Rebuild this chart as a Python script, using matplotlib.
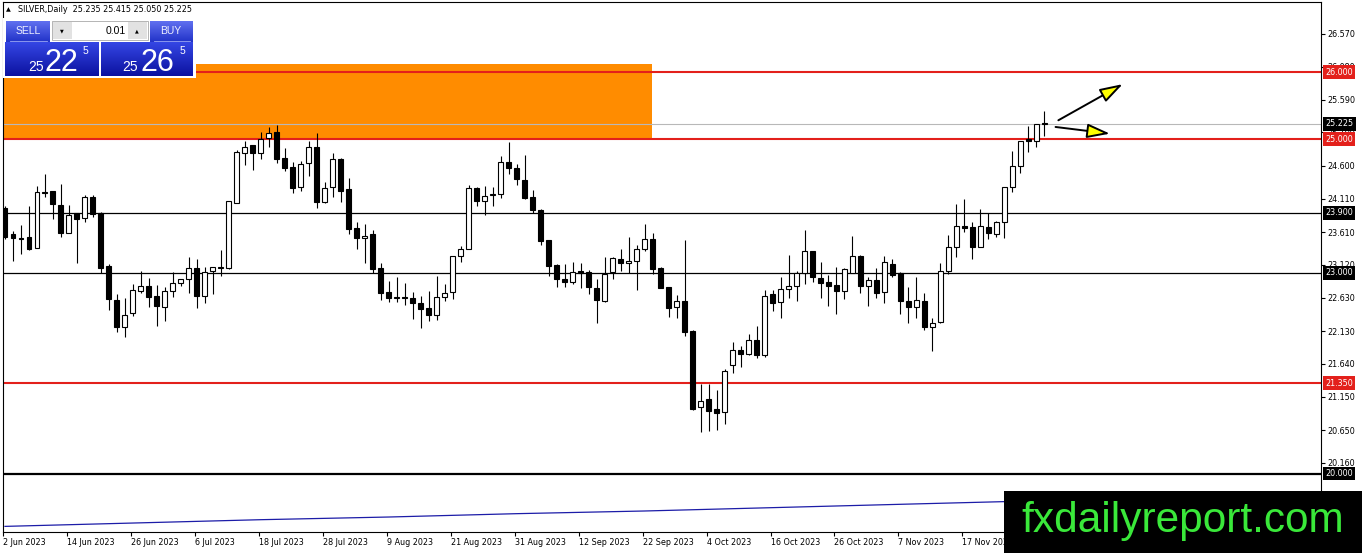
import matplotlib
matplotlib.use("Agg")
import matplotlib.pyplot as plt
import numpy as np
from matplotlib.patches import Rectangle, FancyArrowPatch
from matplotlib.colors import LinearSegmentedColormap

#********************************************
# DATA

opens = [23.97, 23.58, 23.52, 23.54, 23.37, 24.21, 24.22, 24.01, 23.60, 23.89,
         23.82, 24.13, 23.89, 23.10, 22.59, 22.19, 22.40, 22.73, 22.80, 22.65,
         22.49, 22.73, 22.85, 22.91, 23.07, 22.65, 23.03, 23.07, 23.07, 24.04,
         24.79, 24.91, 24.79, 25.02, 25.11, 24.72, 24.58, 24.28, 24.64, 24.88,
         24.06, 24.28, 24.70, 24.25, 23.67, 23.52, 23.58, 23.07, 22.71, 22.62,
         22.64, 22.62, 22.55, 22.47, 22.37, 22.64, 22.71, 23.25, 23.36, 24.27,
         24.07, 24.17, 24.18, 24.66, 24.57, 24.39, 24.13, 23.94, 23.49, 23.12,
         22.91, 22.86, 23.03, 23.01, 22.77, 22.58, 23.01, 23.21, 23.15, 23.18,
         23.36, 23.51, 23.07, 22.79, 22.49, 22.58, 22.13, 20.99, 21.11, 20.96,
         20.92, 21.62, 21.85, 21.79, 22.00, 21.77, 22.68, 22.56, 22.76, 22.80,
         23.00, 23.33, 22.92, 22.86, 22.82, 22.73, 23.00, 23.25, 22.80, 22.89,
         22.71, 23.13, 23.00, 22.58, 22.49, 22.58, 22.19, 22.27, 23.03, 23.39,
         23.70, 23.69, 23.39, 23.69, 23.58, 23.76, 24.28, 24.60, 25.00, 24.97,
         25.235]
highs = [24.00, 23.63, 23.72, 24.00, 24.30, 24.48, 24.22, 24.33, 24.01, 23.89,
         24.16, 24.16, 23.91, 23.13, 22.68, 22.62, 22.83, 23.03, 22.92, 22.82,
         22.79, 23.01, 22.91, 23.24, 23.21, 23.09, 23.09, 23.34, 24.07, 24.84,
         24.97, 24.91, 25.11, 25.18, 25.21, 24.87, 24.66, 24.67, 24.97, 25.09,
         24.36, 24.79, 24.72, 24.42, 23.76, 23.73, 23.64, 23.15, 22.88, 22.94,
         22.85, 22.71, 22.65, 22.73, 22.95, 22.83, 23.25, 23.40, 24.31, 24.28,
         24.30, 24.28, 24.75, 24.95, 24.63, 24.76, 24.24, 23.95, 23.49, 23.13,
         23.13, 23.16, 23.15, 23.04, 22.91, 23.24, 23.24, 23.36, 23.54, 23.42,
         23.73, 23.60, 23.09, 22.79, 22.67, 23.49, 22.14, 21.34, 21.34, 21.25,
         21.56, 21.97, 21.91, 22.09, 22.21, 22.75, 22.74, 22.94, 23.27, 23.03,
         23.64, 23.33, 23.16, 22.97, 23.09, 23.07, 23.55, 23.27, 22.94, 23.07,
         23.25, 23.21, 23.01, 22.79, 22.94, 22.70, 22.32, 23.15, 23.57, 24.03,
         24.10, 23.76, 23.95, 23.89, 23.78, 24.28, 24.82, 24.97, 25.20, 25.22,
         25.415]
lows = [23.50, 23.18, 23.28, 23.34, 23.37, 24.13, 23.80, 23.54, 23.60, 23.15,
        23.76, 23.83, 23.00, 22.44, 22.12, 22.04, 22.35, 22.70, 22.49, 22.21,
        22.28, 22.64, 22.80, 22.70, 22.47, 22.55, 22.68, 22.95, 23.06, 24.04,
        24.61, 24.54, 24.70, 24.88, 24.64, 24.52, 24.19, 24.22, 24.45, 23.97,
        24.04, 24.13, 24.06, 23.58, 23.36, 23.15, 23.00, 22.59, 22.56, 22.56,
        22.52, 22.31, 22.18, 22.28, 22.30, 22.58, 22.61, 23.16, 23.36, 24.00,
        23.86, 24.00, 24.12, 24.48, 24.31, 24.10, 23.89, 23.42, 22.95, 22.79,
        22.79, 22.83, 22.77, 22.68, 22.25, 22.56, 22.91, 23.03, 23.00, 22.74,
        23.33, 22.98, 22.77, 22.34, 22.32, 22.06, 20.95, 20.62, 20.64, 20.65,
        20.74, 21.50, 21.59, 21.77, 21.73, 21.74, 22.43, 22.32, 22.62, 22.58,
        22.83, 22.86, 22.62, 22.50, 22.39, 22.61, 23.00, 22.70, 22.50, 22.62,
        22.55, 22.94, 22.38, 22.25, 22.32, 22.15, 21.83, 22.25, 22.98, 23.24,
        23.61, 23.21, 23.39, 23.51, 23.54, 23.52, 24.21, 24.49, 24.81, 24.88,
        25.05]
closes = [23.54, 23.52, 23.51, 23.36, 24.21, 24.20, 24.03, 23.60, 23.86, 23.80,
          24.13, 23.88, 23.07, 22.61, 22.19, 22.37, 22.74, 22.80, 22.64, 22.50,
          22.73, 22.85, 22.91, 23.07, 22.65, 23.01, 23.09, 23.08, 24.07, 24.81,
          24.88, 24.79, 25.00, 25.09, 24.70, 24.57, 24.27, 24.63, 24.88, 24.06,
          24.27, 24.70, 24.22, 23.66, 23.52, 23.55, 23.06, 22.70, 22.62, 22.64,
          22.63, 22.55, 22.46, 22.37, 22.64, 22.70, 23.25, 23.36, 24.27, 24.07,
          24.15, 24.18, 24.66, 24.57, 24.40, 24.12, 23.94, 23.48, 23.10, 22.91,
          22.86, 23.01, 23.00, 22.79, 22.59, 22.98, 23.22, 23.15, 23.18, 23.36,
          23.51, 23.06, 22.77, 22.47, 22.58, 22.12, 20.96, 21.08, 20.93, 20.90,
          21.53, 21.85, 21.79, 22.00, 21.77, 22.66, 22.55, 22.76, 22.80, 23.00,
          23.33, 22.94, 22.85, 22.80, 22.73, 23.06, 23.25, 22.80, 22.89, 22.70,
          23.16, 22.97, 22.58, 22.49, 22.59, 22.19, 22.25, 23.03, 23.39, 23.70,
          23.67, 23.39, 23.70, 23.60, 23.76, 24.28, 24.60, 24.97, 24.97, 25.22,
          25.225]

# slow blue line (bar index, value)
ma_idx = [0, 16, 32, 48, 64, 80, 96, 112, 125]
ma_vals = [19.21, 19.26, 19.31, 19.35, 19.40, 19.44, 19.49, 19.54, 19.58]

date_idx = [0, 8, 16, 24, 32, 40, 48, 56, 64, 72, 80, 88, 96, 104, 112, 120]
date_labels = ['2 Jun 2023', '14 Jun 2023', '26 Jun 2023', '6 Jul 2023',
               '18 Jul 2023', '28 Jul 2023', '9 Aug 2023', '21 Aug 2023',
               '31 Aug 2023', '12 Sep 2023', '22 Sep 2023', '4 Oct 2023',
               '16 Oct 2023', '26 Oct 2023', '7 Nov 2023', '17 Nov 2023']

price_ticks = [26.570, 26.080, 25.590, 25.100, 24.600, 24.110, 23.610,
               23.120, 22.630, 22.130, 21.640, 21.150, 20.650, 20.160]

red_levels = [26.000, 25.000, 21.350]
black_levels = [23.900, 23.000]
heavy_level = 20.000
bid = 25.225

zone_low, zone_high, zone_end = 25.00, 26.12, 80.9

#********************************************
# FIGURE / MAIN AXES

W, H = 1362, 553
fig = plt.figure(figsize=(W / 100, H / 100), dpi=100)
fig.patch.set_facecolor('white')
ax = fig.add_axes([3 / W, 21 / H, 1318 / W, 530 / H])
ax.set_xlim(-0.125, 164.6)
ax.set_ylim(19.126, 27.048)

# orange resistance zone
ax.fill_between([-1, zone_end], zone_low, zone_high, color='#ff8c00', lw=0, zorder=1)

for lv in red_levels:
    ax.axhline(lv, color='#e3201b', lw=1.5, zorder=2)
for lv in black_levels:
    ax.axhline(lv, color='black', lw=0.9, zorder=2)
ax.axhline(heavy_level, color='black', lw=1.6, zorder=2)
ax.axhline(bid, color='#b8b8b8', lw=0.8, zorder=2)

ax.plot(ma_idx, ma_vals, color='#1c1ca8', lw=0.9, zorder=2)

# candles
o = np.array(opens)
c = np.array(closes)
bars = np.arange(len(o))
up = c >= o
ax.vlines(bars, lows, highs, color='black', lw=0.8, zorder=3)
ax.bar(bars, np.abs(c - o), bottom=np.minimum(o, c), width=0.62,
       color=np.where(up, 'white', 'black'), edgecolor='black', lw=0.8, zorder=4)

# arrows
for (xa, ya), (xb, yb) in [((131.75, 25.28), (139.8, 25.82)),
                           ((131.4, 25.18), (138.2, 25.08))]:
    ax.add_patch(FancyArrowPatch((xa, ya), (xb, yb),
                                 arrowstyle='-|>,head_length=0.7,head_width=0.22',
                                 mutation_scale=20, lw=1.4, shrinkA=0, shrinkB=0,
                                 facecolor='#ffff00', edgecolor='black',
                                 zorder=6, clip_on=False))

# axes look
for sp in ax.spines.values():
    sp.set_color('black')
    sp.set_linewidth(0.8)
ax.yaxis.tick_right()
ax.set_yticks(price_ticks)
ax.set_yticklabels([f'{v:.3f}' for v in price_ticks])
ax.tick_params(axis='y', length=3, width=0.8, pad=1.5, labelsize=5.8, colors='black')
ax.set_xticks(np.array(date_idx) - 0.25)
ax.set_xticklabels(date_labels)
ax.tick_params(axis='x', length=3, width=0.8, pad=1.5, labelsize=5.8)
for lab in ax.get_xticklabels():
    lab.set_ha('left')

# price tags on the right axis
tags = [(26.000, '#e3201b'), (25.225, 'black'), (25.000, '#e3201b'),
        (23.900, 'black'), (23.000, 'black'), (21.350, '#e3201b'), (20.000, 'black')]
for val, bg in tags:
    ax.text(1.0032, val, f'{val:.3f}', transform=ax.get_yaxis_transform(),
            ha='left', va='center', fontsize=5.8, color='white', zorder=8,
            bbox=dict(boxstyle='square,pad=0.3', fc=bg, ec='none'))

#********************************************
# OVERLAY: header, trade panel, watermark (pixel coordinates)

ov = fig.add_axes([0, 0, 1, 1], zorder=5)
ov.axis('off')


def grad(x0, y0, x1, y1, top, bot):
    cmap = LinearSegmentedColormap.from_list('g', [top, bot])
    ov.imshow(np.linspace(0, 1, 60).reshape(-1, 1), cmap=cmap, aspect='auto',
              extent=(x0, x1, y1, y0), interpolation='bilinear', zorder=2)


ov.text(6, 10, '\u25b2', fontsize=4.5, va='center', ha='left')
ov.text(18, 10, 'SILVER,Daily  25.235 25.415 25.050 25.225', fontsize=5.8,
        va='center', ha='left')

ov.add_patch(Rectangle((3, 18), 193, 60, fc='white', ec='none', zorder=1))
grad(6, 21, 50, 42, '#6070f0', '#2233c8')
grad(150, 21, 193, 42, '#6070f0', '#2233c8')
ov.plot([10, 47], [40.5, 40.5], color='#9aa6f4', lw=0.6, zorder=3)
ov.plot([154, 190], [40.5, 40.5], color='#9aa6f4', lw=0.6, zorder=3)
ov.text(28, 31, 'SELL', color='#eef0ff', fontsize=7.5, ha='center', va='center',
        family='Liberation Sans', zorder=4)
ov.text(171, 31, 'BUY', color='#eef0ff', fontsize=7.5, ha='center', va='center',
        family='Liberation Sans', zorder=4)

ov.add_patch(Rectangle((52, 21), 96, 19, fc='white', ec='#a8a8a8', lw=0.6, zorder=2))
ov.add_patch(Rectangle((53, 22), 19, 17, fc='#e2e2e2', ec='none', zorder=2.5))
ov.add_patch(Rectangle((128, 22), 19, 17, fc='#e2e2e2', ec='none', zorder=2.5))
ov.text(62, 31, '\u25bc', fontsize=3.5, ha='center', va='center', zorder=4)
ov.text(137, 31, '\u25b2', fontsize=3.5, ha='center', va='center', zorder=4)
ov.text(126, 31, '0.01', fontsize=7.5, ha='right', va='center',
        family='Liberation Sans', zorder=4)

grad(5, 42, 99, 76, '#3446e4', '#0c12a0')
grad(101, 42, 193, 76, '#3446e4', '#0c12a0')
for x_small, x_big, x_sup, big in [(28, 45, 83, '22'), (122, 140, 180, '26')]:
    ov.text(x_small, 71, '25', color='white', fontsize=10, va='baseline',
            family='Liberation Sans', zorder=4)
    ov.text(x_big, 71, big, color='white', fontsize=22, va='baseline',
            family='Liberation Sans', zorder=4)
    ov.text(x_sup, 46, '5', color='white', fontsize=7.5, va='top',
            family='Liberation Sans', zorder=4)

# watermark
ov.add_patch(Rectangle((1004, 491), 360, 64, fc='black', ec='none', zorder=5))
ov.text(1021, 532, 'fxdailyreport.com', color='#3ae83a', fontsize=30.5,
        va='baseline', ha='left', family='Liberation Sans', zorder=6)

ov.set_xlim(0, W)
ov.set_ylim(H, 0)

fig.savefig('out.png', dpi=100)
